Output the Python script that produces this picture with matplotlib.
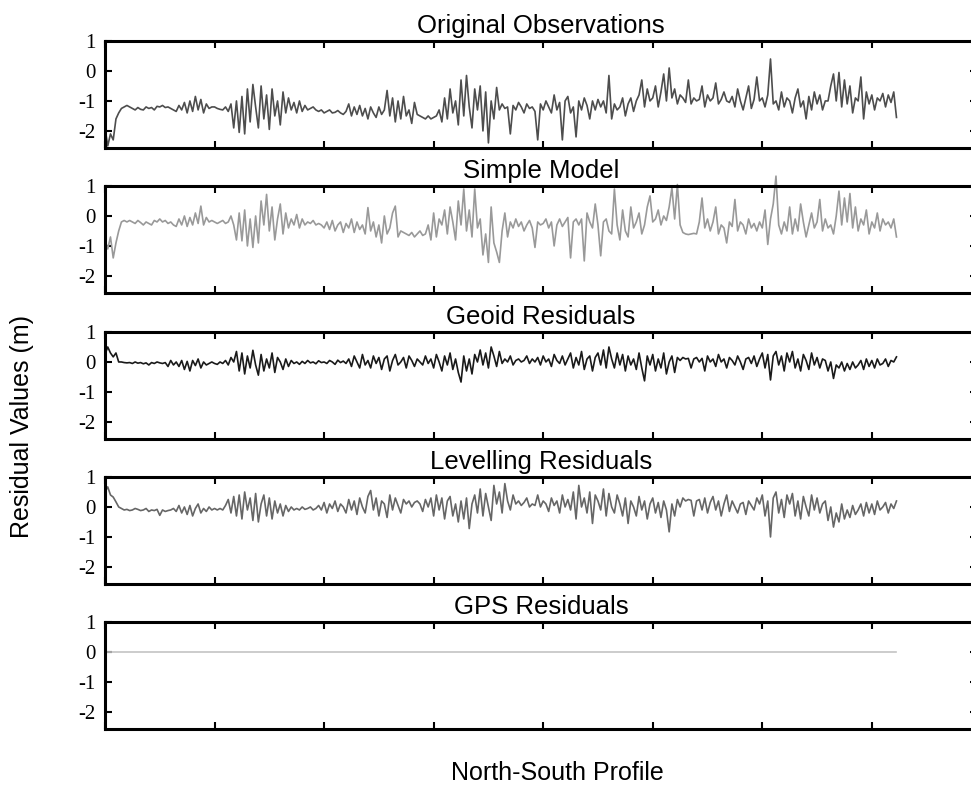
import numpy as np
import matplotlib
matplotlib.use("Agg")
import matplotlib.pyplot as plt

plt.rcParams['axes.unicode_minus'] = False

# values, one point every 2.5 profile units
original = [
    -1.9, -2.5, -2.1, -2.3, -1.6, -1.4, -1.25, -1.2, -1.15, -1.2,
    -1.25, -1.3, -1.22, -1.28, -1.3, -1.2, -1.25, -1.22, -1.3, -1.18,
    -1.2, -1.15, -1.22, -1.2, -1.25, -1.3, -1.35, -1.15, -1.3, -1.05,
    -1.4, -1.0, -1.35, -0.85, -1.3, -0.95, -1.4, -1.1, -1.25, -1.2,
    -1.2, -1.25, -1.28, -1.3, -1.2, -1.35, -1.1, -1.9, -1.0, -2.05,
    -0.85, -2.1, -0.6, -1.7, -0.45, -1.2, -1.9, -0.5, -1.6, -0.8,
    -1.95, -0.6, -1.5, -1.0, -1.8, -0.7, -1.4, -0.9, -1.3, -1.05,
    -1.4, -1.0, -1.35, -1.15, -1.3, -1.25, -1.2, -1.3, -1.35, -1.3,
    -1.4, -1.35, -1.3, -1.4, -1.38, -1.32, -1.4, -1.45, -1.35, -1.1,
    -1.5, -1.2, -1.45, -1.15, -1.5, -1.25, -1.6, -1.2, -1.4, -1.55,
    -1.2, -1.45, -1.3, -0.65, -1.5, -0.9, -1.7, -1.0, -1.6, -0.85,
    -1.5, -1.3, -1.75, -1.05, -1.45, -1.5, -1.55, -1.6, -1.5, -1.6,
    -1.55, -1.5, -1.3, -1.7, -0.9, -1.6, -0.6, -1.4, -1.0, -1.8,
    -0.3, -1.5, -0.15, -1.2, -1.9, -0.6, -1.3, -0.5, -2.0, -0.7,
    -2.4, -1.0, -1.6, -0.55, -1.3, -1.1, -1.25, -1.2, -2.1, -1.15,
    -1.3, -1.05, -1.2, -1.4, -1.1, -1.25, -1.2, -1.35, -2.3, -1.1,
    -1.3, -1.0, -1.2, -1.4, -0.8, -1.3, -1.05, -2.3, -1.0, -0.85,
    -1.4, -1.2, -2.2, -1.0, -1.3, -0.9, -1.15, -1.6, -1.0, -1.3,
    -0.95, -1.2, -1.0, -1.4, -0.15, -1.6, -1.1, -1.3, -1.2, -0.9,
    -1.5, -1.1, -0.9, -1.35, -1.0, -0.8, -0.3, -1.2, -0.6, -1.0,
    -0.9, -0.5, -1.2, -0.7, -0.1, -1.0, 0.1, -0.9, -0.6, -1.1,
    -0.8, -0.9, -1.05, -0.3, -1.1, -0.9, -1.0, -0.95, -0.5, -1.2,
    -0.8, -1.0, -0.9, -0.4, -1.1, -0.95, -0.7, -1.0, -1.05, -0.85,
    -1.2, -0.6, -1.0, -1.3, -0.9, -0.5, -1.25, -0.95, -0.2, -1.0,
    -0.9, -1.2, -0.8, 0.4, -1.1, -1.0, -1.3, -0.7, -1.2, -0.9,
    -1.0, -1.4, -0.9, -0.6, -1.2, -1.0, -1.6, -0.85, -1.3, -0.7,
    -1.1, -0.8, -1.3, -1.0, -1.0, -0.5, -0.1, -1.0, -0.05, -1.2,
    -0.3, -1.1, -0.5, -1.4, -0.9, -1.0, -0.2, -1.6, -0.7, -1.1,
    -0.8, -1.3, -0.9, -1.0, -0.75, -1.2, -0.8, -1.05, -0.7, -1.55,
]

simple_model = [
    -0.8, -1.1, -0.7, -1.4, -0.9, -0.5, -0.2, -0.15, -0.2, -0.15,
    -0.2, -0.25, -0.15, -0.22, -0.3, -0.2, -0.25, -0.3, -0.15, -0.2,
    -0.1, -0.2, -0.15, -0.25, -0.2, -0.3, -0.35, -0.1, -0.3, 0.0,
    -0.35, -0.05, -0.3, 0.1, -0.25, 0.33, -0.3, -0.05, -0.2, -0.15,
    -0.2, -0.25, -0.2, -0.15, -0.25, -0.2, 0.0, -0.3, -0.8, 0.1,
    -0.83, 0.2, -1.0, -0.1, -1.05, 0.0, -0.9, 0.5, -0.3, 0.72,
    -0.5, 0.3, -0.8, -0.1, 0.4, -0.6, 0.1, -0.4, -0.1, -0.3,
    0.05, -0.4, -0.1, -0.3, -0.2, -0.25, -0.15, -0.3, -0.25, -0.3,
    -0.4, -0.2, -0.45, -0.15, -0.5, -0.3, -0.2, -0.55, -0.25, -0.4,
    -0.1, -0.55, -0.2, -0.45, -0.3, -0.6, 0.28, -0.5, -0.2, -0.7,
    -0.3, -0.9, 0.0, -0.6, -0.4, 0.1, 0.33, -0.7, -0.5, -0.55,
    -0.6, -0.65, -0.55, -0.7, -0.6, -0.5, -0.65, -0.6, -0.3, -0.8,
    0.1, -0.7, -0.1, -0.3, 0.2, -0.6, 0.3, -0.2, -0.8, 0.5,
    -0.3, 0.9, -0.5, 0.2, -0.7, 0.9, -0.4, -0.1, -1.3, -0.6,
    -1.55, 0.3, -0.9, -1.2, -1.55, -0.5, 0.1, -0.7, -0.2, -0.4,
    -0.1, -0.35, -0.2, -0.5, -0.3, -0.15, -0.4, -1.05, -0.2, -0.3,
    -0.25, -0.1, -0.4, -0.2, -1.0, -0.3, -0.1, -0.35, -0.2, -0.05,
    -1.4, -0.2, -0.1, -0.3, -0.1, -1.5, 0.1, -0.2, -0.4, 0.4,
    -0.3, -1.33, -0.2, -0.1, -0.5, -0.6, 0.9, -0.3, -0.8, 0.2,
    -0.5, -0.7, 0.3, -0.4, -0.2, 0.1, -0.6, -0.3, 0.3, 0.67,
    -0.2, -0.1, 0.2, -0.3, 0.0, -0.15, 0.3, 0.94, -0.1, 1.05,
    -0.3, -0.55, -0.6, -0.62, -0.6, -0.58, -0.6, -0.2, 0.6, -0.4,
    -0.1, -0.5, -0.2, 0.3, -0.6, -0.3, -0.4, -0.9, -0.2, -0.35,
    0.55, -0.5, -0.2, -0.3, -0.6, -0.1, -0.4, -0.25, -0.5, -0.2,
    -0.4, 0.2, -0.95, -0.1, 0.4, 1.33, -0.3, -0.6, -0.2, -0.5,
    0.3, -0.6, -0.1, -0.5, 0.4, -0.2, -0.7, -0.3, 0.1, -0.4,
    -0.2, 0.55, -0.5, -0.1, -0.4, -0.3, -0.6, 0.0, 0.83, -0.3,
    0.6, -0.2, 0.75, -0.4, 0.3, -0.5, -0.1, -0.3, 0.2, -0.6,
    -0.2, -0.4, 0.1, -0.5, -0.1, -0.3, -0.2, -0.4, -0.1, -0.7,
]

geoid_res = [
    0.25, 0.5, 0.3, 0.17, 0.3, 0.0, 0.0, -0.02, -0.03, -0.02,
    -0.05, 0.0, -0.04, -0.02, -0.06, -0.03, -0.1, -0.02, -0.05, 0.0,
    -0.03, -0.05, -0.02, -0.15, 0.05, -0.1, 0.0, -0.15, 0.05, -0.25,
    0.02, -0.3, 0.05, -0.12, 0.1, -0.2, 0.0, -0.1, -0.05, 0.0,
    -0.05, -0.08, 0.0, -0.05, 0.05, -0.1, 0.15, 0.0, 0.35, -0.3,
    0.3, -0.4, 0.2, -0.2, 0.39, -0.1, -0.44, 0.25, -0.3, 0.1,
    -0.2, 0.3, -0.35, 0.15, 0.0, -0.25, 0.1, -0.15, 0.05, -0.05,
    0.0, -0.08, 0.02, -0.05, 0.05, -0.03, 0.0, -0.06, 0.04, -0.02,
    0.0, -0.05, 0.05, 0.0, -0.08, 0.06, -0.02, 0.03, -0.05, 0.1,
    -0.15, 0.2, 0.0, -0.2, 0.25, -0.1, 0.05, -0.2, 0.2, -0.05,
    0.15, -0.25, 0.1, 0.2, -0.3, 0.05, 0.25, -0.1, 0.0, 0.15,
    -0.2, 0.2, 0.05, -0.15, 0.1, 0.0, -0.1, 0.2, -0.05, 0.1,
    -0.2, 0.25, 0.0, -0.3, 0.2, -0.1, 0.3, -0.25, 0.1, -0.35,
    -0.67, 0.2, -0.3, 0.1, -0.4, 0.25, 0.0, 0.4, -0.1, 0.3,
    -0.2, 0.5, 0.2, -0.15, 0.35, -0.05, 0.1, 0.0, 0.2, -0.1,
    0.05, 0.1, 0.0, 0.05, 0.2, -0.05, 0.1, 0.0, 0.15, -0.1,
    0.2, 0.0, 0.1, -0.15, 0.25, 0.05, -0.05, 0.2, -0.1, 0.1,
    0.3, -0.2, 0.15, -0.1, 0.35, -0.25, 0.1, 0.2, -0.3, 0.15,
    0.3, -0.1, 0.4, -0.2, 0.5, 0.1, -0.2, 0.3, -0.1, 0.25,
    -0.3, 0.2, -0.1, 0.1, -0.25, 0.3, -0.2, -0.63, 0.2, -0.1,
    0.25, -0.3, 0.1, -0.2, 0.3, -0.4, 0.0, 0.2, -0.35, 0.15,
    0.05, 0.15, 0.1, 0.12, -0.2, 0.1, 0.15, 0.0, 0.12, -0.3,
    0.2, 0.0, 0.1, -0.15, 0.25, 0.0, 0.1, -0.2, 0.15, 0.05,
    -0.1, 0.2, 0.0, -0.25, 0.1, 0.15, -0.05, 0.2, -0.15, 0.1,
    0.3, -0.2, 0.25, -0.6, 0.2, 0.35, -0.1, 0.2, -0.3, 0.3,
    0.0, 0.35, -0.2, 0.1, -0.3, 0.25, 0.05, -0.25, 0.3, -0.1,
    0.15, -0.2, 0.1, 0.05, -0.3, 0.0, -0.55, -0.1, -0.2, 0.0,
    -0.3, -0.05, -0.25, 0.0, -0.2, -0.1, 0.05, -0.25, 0.1, -0.15,
    0.05, -0.2, 0.1, -0.1, -0.05, 0.1, -0.15, 0.05, 0.0, 0.17,
]

levelling_res = [
    0.5, 0.67, 0.4, 0.33, 0.17, 0.0, -0.05, -0.1, -0.08, -0.12,
    -0.1, -0.05, -0.08, -0.12, -0.1, -0.05, -0.15, -0.1, -0.12, -0.08,
    -0.28, -0.1, -0.15, -0.12, -0.1, -0.05, -0.15, 0.05, -0.2, 0.0,
    -0.25, 0.05, -0.3, -0.05, 0.1, -0.2, -0.05, -0.15, 0.0, -0.1,
    -0.05, -0.1, -0.05, -0.1, 0.05, 0.25, -0.2, 0.35, -0.3, 0.4,
    -0.4, 0.5, -0.1, 0.3, -0.45, 0.45, -0.5, 0.1, 0.4, -0.3,
    0.3, -0.4, 0.2, -0.2, 0.1, -0.3, 0.05, -0.15, 0.0, -0.1,
    -0.05, -0.1, 0.0, -0.08, -0.05, 0.0, -0.1, -0.05, 0.05, -0.1,
    0.15, -0.2, 0.1, -0.05, 0.2, -0.15, 0.1, 0.0, -0.2, 0.25,
    -0.1, 0.2, -0.25, 0.3, 0.0, -0.2, 0.35, 0.55, -0.1, 0.3,
    -0.3, 0.2, 0.1, -0.35, 0.4, -0.1, 0.3, 0.05, -0.2, 0.25,
    0.1, 0.2, 0.0, 0.15, 0.2, 0.1, -0.15, 0.25, 0.0, 0.3,
    -0.3, 0.4, -0.1, 0.3, -0.4, 0.2, 0.35, -0.3, 0.1, -0.5,
    0.2, -0.4, 0.3, -0.72, 0.1, 0.4, -0.2, 0.6, -0.3, 0.45,
    0.0, -0.45, 0.72, 0.1, 0.5, -0.2, 0.78, 0.2, -0.1, 0.4,
    0.1, 0.2, 0.05, 0.15, 0.3, 0.0, 0.1, 0.05, 0.4, 0.0,
    0.2, 0.1, -0.15, 0.3, 0.05, 0.2, -0.2, 0.4, 0.0, 0.25,
    -0.1, 0.5, -0.4, 0.72, 0.0, 0.3, -0.2, 0.5, -0.55, 0.4,
    0.2, -0.1, 0.6, -0.3, 0.45, 0.0, -0.2, 0.4, 0.1, -0.3,
    0.3, -0.55, 0.2, 0.0, -0.3, 0.35, -0.1, 0.2, -0.4, 0.1,
    0.3, -0.2, 0.15, -0.35, 0.2, -0.1, -0.83, 0.1, -0.3, 0.25,
    0.0, 0.3, 0.2, 0.25, 0.22, -0.3, 0.2, 0.25, -0.1, 0.3,
    -0.2, 0.15, 0.35, -0.1, 0.2, -0.3, 0.1, 0.4, -0.15, 0.2,
    0.0, -0.2, 0.1, 0.15, -0.25, 0.2, 0.05, -0.1, 0.3, 0.1,
    0.4, -0.3, 0.2, -1.0, 0.3, 0.5, -0.2, 0.25, -0.35, 0.4,
    0.1, 0.45, -0.3, 0.2, -0.4, 0.35, 0.0, -0.3, 0.4, -0.1,
    0.3, -0.2, 0.1, 0.2, -0.45, 0.0, -0.67, -0.2, -0.5, 0.1,
    -0.4, -0.1, -0.35, 0.05, -0.25, -0.1, 0.1, -0.3, 0.15, -0.2,
    0.1, -0.25, 0.2, -0.1, 0.0, 0.15, -0.2, 0.1, -0.05, 0.2,
]

gps_res = [0.0] * len(original)

titles = ['Original Observations', 'Simple Model', 'Geoid Residuals',
          'Levelling Residuals', 'GPS Residuals']
series = [original, simple_model, geoid_res, levelling_res, gps_res]
colors = ['#4d4d4d', '#999999', '#1a1a1a', '#666666', '#c4c4c4']
yticks = [-2, -1, 0, 1]

x = np.arange(len(original)) * 2.5

fig = plt.figure(figsize=(9.71, 7.87), dpi=100)

# panel tops in pixels (from the reference), each ~107 px high
tops = [41, 186, 332, 477, 622]
left = 105 / 971
width = (977 - 105) / 971
height = 107 / 787

for top, title, y, c in zip(tops, titles, series, colors):
    ax = fig.add_axes([left, 1 - (top + 107) / 787, width, height])
    ax.plot(x, y, color=c, lw=1.2, clip_on=False)
    ax.set_xlim(0, 796)
    ax.set_ylim(-2.57, 1.0)
    ax.set_xticks(np.arange(0, 800, 100))
    ax.set_yticks(yticks)
    ax.tick_params(direction='in', length=5, width=1.5, top=True, right=True,
                   labelbottom=False, labelsize=15, pad=7)
    for lab in ax.get_yticklabels():
        lab.set_family('Liberation Serif')
    for sp in ax.spines.values():
        sp.set_linewidth(2.2)
    ax.set_title(title, fontsize=18.5, family='Liberation Sans', pad=6)

fig.text(557 / 971, 1 - 773 / 787, 'North-South Profile', ha='center', va='center',
         fontsize=18, family='Liberation Sans')
fig.text(22 / 971, 1 - 427 / 787, 'Residual Values (m)', ha='center', va='center',
         rotation=90, fontsize=18, family='Liberation Sans')

fig.savefig('out.png', dpi=100)
